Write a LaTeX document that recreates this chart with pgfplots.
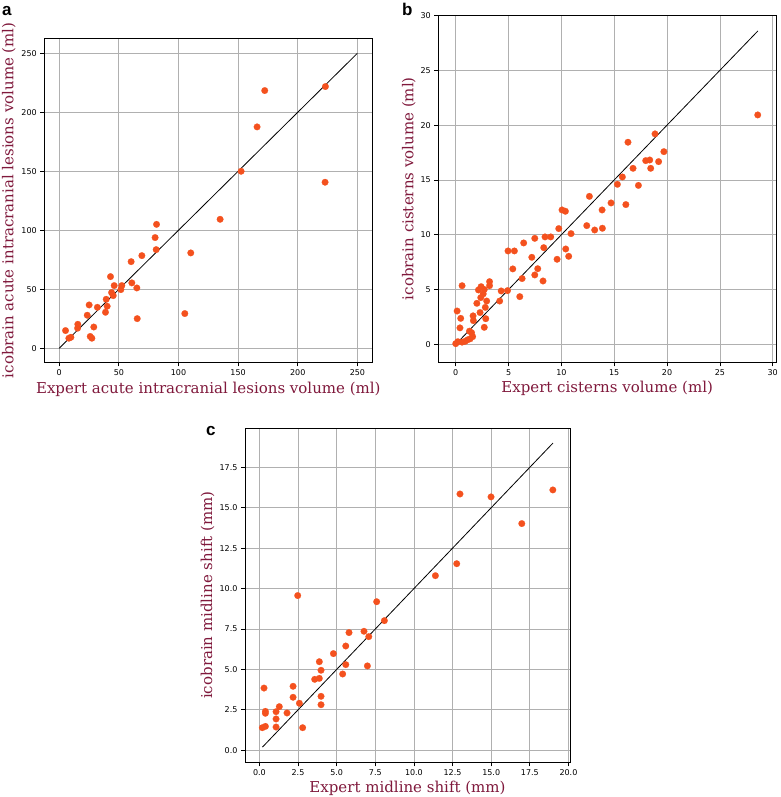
\documentclass[border=0pt]{standalone}
\usepackage{fontspec}
\setmainfont{DejaVu Serif}
\newfontfamily\tickfont{DejaVu Sans}
\newfontfamily\letterfont{Liberation Sans}
\usepackage{pgfplots}
\pgfplotsset{compat=1.18}
\definecolor{dots}{HTML}{F4511E}
\definecolor{labcol}{HTML}{80193C}
\definecolor{gridc}{HTML}{B0B0B0}
\pgfplotsset{
  panel/.style={
    scale only axis,
    anchor=south west,
    axis line style={black, line width=0.9pt},
    grid=major,
    major grid style={gridc, line width=0.8pt},
    tick align=outside,
    tick pos=left,
    major tick length=4pt,
    tick style={black, line width=0.8pt},
    ticklabel style={font=\tickfont\fontsize{8}{9}\selectfont, text=black},
    /pgf/number format/assume math mode=true,
    label style={font=\fontsize{15}{18}\selectfont, text=labcol, inner sep=0pt},
    clip=false,
  },
  dotstyle/.style={only marks, color=dots, mark=*, mark size=3.3pt, line width=0.2pt, mark options={fill=dots, draw=dots}},
  diag/.style={black, line width=0.8pt, no marks},
}
\begin{document}
\begin{tikzpicture}[x=1pt,y=1pt]
\useasboundingbox (0,0) rectangle (780,797);
% Panel a
\begin{axis}[panel, at={(44.3pt,434.7pt)}, width=328pt, height=324pt,
  xmin=-12.5, xmax=262.5, ymin=-11.9, ymax=262.7,
  xtick={0,50,...,250}, ytick={0,50,...,250},
  xlabel={Expert acute intracranial lesions volume (ml)},
  ylabel={icobrain acute intracranial lesions volume (ml)},
  xlabel style={at={(axis description cs:0.5,-0.0948)}, anchor=base},
  ylabel style={at={(axis description cs:-0.0945,0.5)}, anchor=base},
]
\addplot[diag] coordinates {(0,0) (250,250)};
\addplot[dotstyle] coordinates {
(5.3,15) (8.1,8.5) (9.8,9.3) (15.6,20.3) (15.4,17) (23.5,28) (25.1,36.7)
(26,10) (27.4,8.5) (29,18) (32,34.7) (38.8,30.5) (39.4,41.5) (40.2,35.6)
(43,60.7) (43.9,47.2) (45.3,44.6) (46.1,53.1) (51.7,49.7) (52.5,53.1)
(60.3,73.4) (60.9,55.4) (65.1,51.1) (65.4,25.1) (69.3,78.5) (80.4,93.8)
(81.3,83.6) (81.6,105) (105.3,29.4) (110.3,80.8) (134.9,109.3) (152.5,150)
(165.9,187.6) (172.3,218.4) (222.9,140.7) (223.2,221.8)
};
\end{axis}
% Panel b
\begin{axis}[panel, at={(438.3pt,434.7pt)}, width=337.7pt, height=347.3pt,
  xmin=-1.65, xmax=30.31, ymin=-1.64, ymax=30.05,
  xtick={0,5,...,30}, ytick={0,5,...,30},
  xlabel={Expert cisterns volume (ml)},
  ylabel={icobrain cisterns volume (ml)},
  xlabel style={at={(axis description cs:0.5,-0.0884)}, anchor=base},
  ylabel style={at={(axis description cs:-0.074,0.5)}, anchor=base},
]
\addplot[diag] coordinates {(0,0) (28.6,28.6)};
\addplot[dotstyle] coordinates {
(0,0.06) (0.2,0.24) (0.13,3.04) (0.4,1.5) (0.47,2.37) (0.6,5.35) (0.6,0.2)
(0.88,0.27) (1.1,0.4) (1.3,1.2) (1.36,0.5) (1.5,1.06) (1.6,0.7) (1.64,2.6)
(1.67,2.16) (2.0,3.74) (2.15,4.96) (2.3,2.9) (2.4,5.26) (2.37,4.26) (2.6,4.6)
(2.7,5.0) (2.7,1.55) (2.8,3.37) (2.84,2.34) (2.93,3.95) (3.2,5.72) (3.2,5.35)
(4.16,3.95) (4.3,4.87) (4.9,4.9) (4.95,8.52) (5.4,6.88) (5.55,8.52) (6.06,4.35)
(6.28,6.0) (6.43,9.25) (7.2,7.94) (7.48,9.67) (7.48,6.33) (7.76,6.9) (8.26,5.78)
(8.33,8.82) (8.45,9.8) (8.99,9.8) (9.59,7.76) (9.75,10.56) (10.06,12.26)
(10.38,12.14) (10.41,8.7) (10.69,8.03) (10.91,10.1) (12.4,10.83) (12.65,13.5)
(13.15,10.43) (13.85,12.26) (13.88,10.59) (14.7,12.9) (15.3,14.6) (15.77,15.27)
(16.1,12.75) (16.3,18.44) (16.78,16.06) (17.29,14.5) (17.98,16.76) (18.36,16.82)
(18.45,16.06) (18.86,19.2) (19.2,16.67) (19.7,17.58) (28.58,20.93)
};
\end{axis}
% Panel c
\begin{axis}[panel, at={(245pt,34.7pt)}, width=325pt, height=334.3pt,
  xmin=-0.93, xmax=20.1, ymin=-0.74, ymax=19.93,
  xtick={0,2.5,...,20}, ytick={0,2.5,...,17.5},
  xticklabel style={/pgf/number format/fixed, /pgf/number format/fixed zerofill, /pgf/number format/precision=1},
  yticklabel style={/pgf/number format/fixed, /pgf/number format/fixed zerofill, /pgf/number format/precision=1},
  xlabel={Expert midline shift (mm)},
  ylabel={icobrain midline shift (mm)},
  xlabel style={at={(axis description cs:0.5,-0.0897)}, anchor=base},
  ylabel style={at={(axis description cs:-0.1015,0.5)}, anchor=base},
]
\addplot[diag] coordinates {(0.2,0.2) (19,19)};
\addplot[dotstyle] coordinates {
(0.19,1.40) (0.3,3.85) (0.39,1.48) (0.39,2.41) (0.39,2.29) (1.08,2.39) (1.08,1.94)
(1.08,1.44) (1.29,2.7) (1.79,2.31) (2.18,3.96) (2.18,3.28) (2.48,9.57) (2.59,2.91)
(2.8,1.4) (3.58,4.39) (3.88,4.45) (3.88,5.48) (3.99,4.95) (3.99,3.34) (3.99,2.82)
(4.79,5.98) (5.39,4.72) (5.59,6.45) (5.59,5.3) (5.8,7.28) (6.77,7.36) (6.99,5.22)
(7.08,7.03) (7.59,9.19) (8.09,8.02) (11.39,10.8) (12.77,11.54) (12.98,15.85)
(14.99,15.67) (16.98,14.02) (18.99,16.1)
};
\end{axis}
\node[anchor=base west, inner sep=0pt, font=\letterfont\bfseries\fontsize{17}{19}\selectfont] at (2,781.5) {a};
\node[anchor=base west, inner sep=0pt, font=\letterfont\bfseries\fontsize{17}{19}\selectfont] at (402,781) {b};
\node[anchor=base west, inner sep=0pt, font=\letterfont\bfseries\fontsize{17}{19}\selectfont] at (206,361) {c};
\end{tikzpicture}
\end{document}
